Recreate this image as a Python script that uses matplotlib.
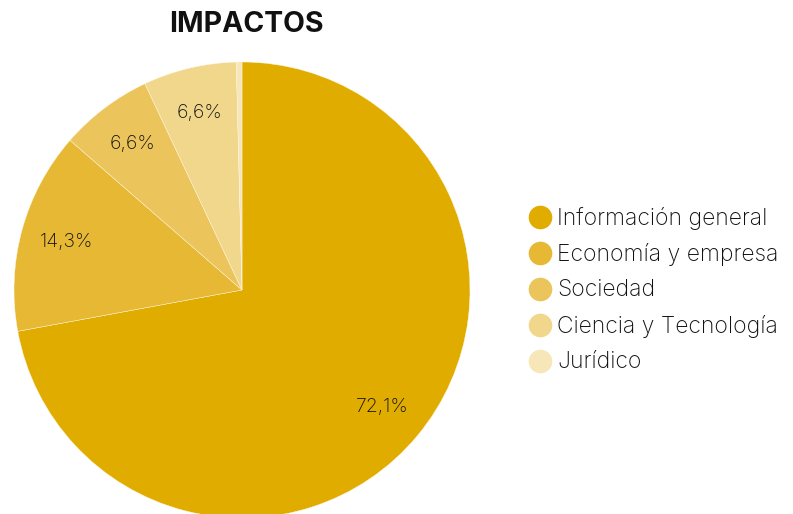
import matplotlib
matplotlib.use("Agg")
import matplotlib.pyplot as plt
from matplotlib.lines import Line2D

categories = ["Información general", "Economía y empresa", "Sociedad", "Ciencia y Tecnología", "Jurídico"]
values = [72.1, 14.3, 6.6, 6.6, 0.4]
colors = ["#E1AC00", "#E6B833", "#EBC55B", "#F1D78B", "#F6E6B8"]
title = "IMPACTOS"

plt.rcParams['font.family'] = ['Inter', 'DejaVu Sans']

W, H = 793, 514
fig = plt.figure(figsize=(W/100, H/100), dpi=100)
cx, cy, r = 242, 290, 228
ax = fig.add_axes([(cx - r)/W, (H - cy - r)/H, 2*r/W, 2*r/H])

def fmt(p):
    if p < 1:
        return ""
    return f"{p:.1f}".replace(".", ",") + "%"

wedges, texts, autotexts = ax.pie(values, colors=colors, startangle=90, counterclock=False,
                                  autopct=fmt, pctdistance=0.8, radius=1,
                                  wedgeprops=dict(edgecolor="#FFF8E6", linewidth=0.3),
                                  textprops=dict(fontsize=14, color="#111111", fontweight="light"))
ax.set_xlim(-1, 1)
ax.set_ylim(-1, 1)
ax.set_aspect("equal")
ax.axis("off")

fig.text(246/W, 1 - 24/H, title, ha="center", va="center", fontsize=20.5, fontweight="bold", color="#111111")

# legend drawn entry by entry
y0, dy = 217, 36
for i, (cat, col) in enumerate(zip(categories, colors)):
    y = 1 - (y0 + i*dy)/H
    fig.add_artist(Line2D([540/W], [y], marker="o", linestyle="", markersize=16,
                          markerfacecolor=col, markeredgecolor=col, transform=fig.transFigure))
    fig.text(557/W, y - 1/H, cat, ha="left", va="center", fontsize=16.5, color="#111111",
             fontweight="light")

fig.savefig("out.png", dpi=100)
